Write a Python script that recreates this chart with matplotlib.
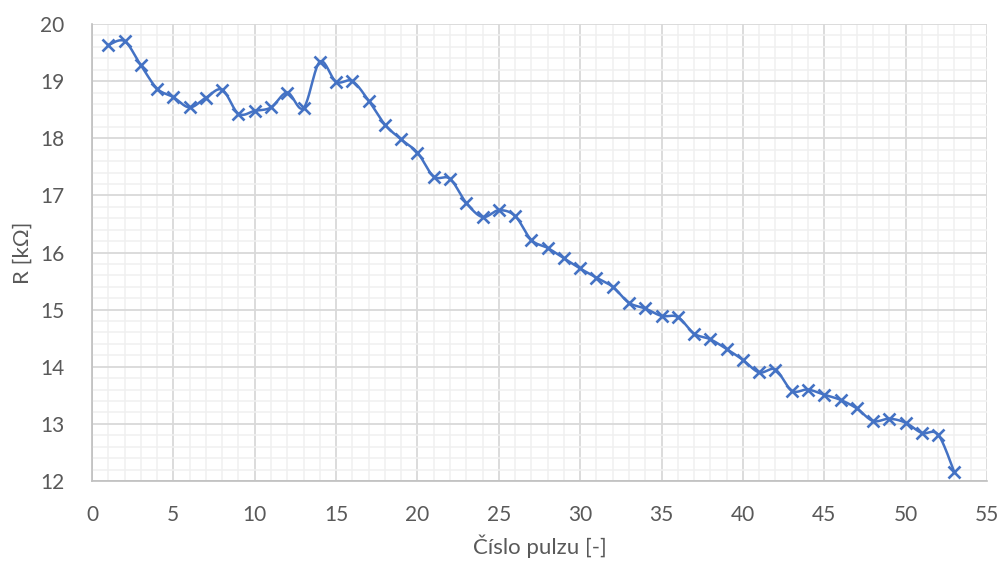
import numpy as np
import matplotlib
matplotlib.use("Agg")
import matplotlib.pyplot as plt
from matplotlib.ticker import MultipleLocator

# Pulse number and measured resistance (kOhm)
pulse = list(range(1, 54))
resistance = [
    19.63, 19.70, 19.28, 18.87, 18.72, 18.54, 18.71, 18.85, 18.43, 18.48,
    18.54, 18.80, 18.53, 19.34, 18.99, 19.00, 18.66, 18.24, 17.98, 17.75,
    17.33, 17.29, 16.87, 16.62, 16.74, 16.64, 16.22, 16.08, 15.90, 15.72,
    15.56, 15.40, 15.12, 15.02, 14.89, 14.87, 14.58, 14.48, 14.31, 14.12,
    13.90, 13.95, 13.58, 13.60, 13.51, 13.42, 13.27, 13.05, 13.09, 13.02,
    12.84, 12.81, 12.15,
]

x_label = "Číslo pulzu [-]"
y_label = "R [kΩ]"


def smooth_curve(x, y, steps=20):
    """Catmull-Rom style Bezier smoothing through every data point."""
    x = np.asarray(x, float)
    y = np.asarray(y, float)
    n = len(x)
    xs, ys = [x[0]], [y[0]]
    t = np.linspace(0, 1, steps + 1)[1:]
    for i in range(n - 1):
        p0 = np.array([x[max(i - 1, 0)], y[max(i - 1, 0)]])
        p1 = np.array([x[i], y[i]])
        p2 = np.array([x[i + 1], y[i + 1]])
        p3 = np.array([x[min(i + 2, n - 1)], y[min(i + 2, n - 1)]])
        c1 = p1 + (p2 - p0) / 6.0
        c2 = p2 - (p3 - p1) / 6.0
        pts = ((1 - t) ** 3)[:, None] * p1 + (3 * (1 - t) ** 2 * t)[:, None] * c1 \
            + (3 * (1 - t) * t ** 2)[:, None] * c2 + (t ** 3)[:, None] * p2
        xs.extend(pts[:, 0])
        ys.extend(pts[:, 1])
    return np.array(xs), np.array(ys)


plt.rcParams['font.family'] = ['Lato', 'DejaVu Sans']

fig = plt.figure(figsize=(10.01, 5.63), dpi=100)
ax = fig.add_axes([0.0919, 0.1457, 0.8941, 0.8116])

blue = "#4472C4"
sx, sy = smooth_curve(pulse, resistance)
ax.plot(sx, sy, color=blue, lw=1.8, zorder=3)
ax.plot(pulse, resistance, linestyle="none", marker="x", color=blue,
        markersize=9, markeredgewidth=1.9, zorder=4)

ax.set_xlim(0, 55)
ax.set_ylim(12, 20)
ax.xaxis.set_major_locator(MultipleLocator(5))
ax.xaxis.set_minor_locator(MultipleLocator(1))
ax.yaxis.set_major_locator(MultipleLocator(1))
ax.yaxis.set_minor_locator(MultipleLocator(0.2))

ax.grid(which="major", color="#d9d9d9", lw=1.3, zorder=1)
ax.grid(which="minor", color="#f0f0f0", lw=1.1, zorder=0)
ax.set_axisbelow(True)

for side in ("top", "right"):
    ax.spines[side].set_visible(False)
for side in ("left", "bottom"):
    ax.spines[side].set_color("#bfbfbf")
    ax.spines[side].set_linewidth(1.2)

ax.tick_params(which="both", length=0, colors="#595959", labelsize=15)
ax.tick_params(axis="x", pad=17)
ax.tick_params(axis="y", pad=20)

ax.set_xlabel(x_label, fontsize=16, color="#595959")
ax.set_ylabel(y_label, fontsize=16, color="#595959")
ax.xaxis.label.set_va("center")
ax.yaxis.label.set_va("center")
ax.xaxis.set_label_coords(0.5, -0.142)
ax.yaxis.set_label_coords(-0.078, 0.5)

fig.savefig("out.png", dpi=100, facecolor="white")
